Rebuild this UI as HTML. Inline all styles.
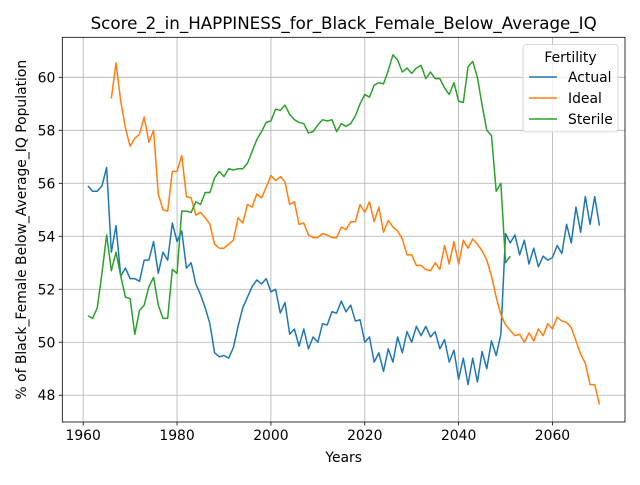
<!DOCTYPE html>
<html><head><meta charset="utf-8"><style>
body{margin:0;background:#fff;font-family:"Liberation Sans","DejaVu Sans",sans-serif}
svg text{font-family:"DejaVu Sans","Liberation Sans",sans-serif}
</style></head><body>
<svg id="chart" width="640" height="480" xmlns="http://www.w3.org/2000/svg">
<rect width="640" height="480" fill="#fff"/>
<g id="grid"></g><g id="series"></g><g id="axes"></g>
</svg>
<script>
const startYear = 1961;
const actualValues = [55.9,55.7,55.7,55.9,56.6,53.4,54.4,52.5,52.8,52.4,52.4,52.3,53.1,53.1,53.8,52.6,53.4,53.1,54.5,53.8,54.2,52.8,53.0,52.2,51.8,51.3,50.7,49.6,49.45,49.5,49.4,49.8,50.6,51.3,51.7,52.1,52.35,52.2,52.4,51.9,52.0,51.1,51.5,50.3,50.5,49.85,50.5,49.75,50.2,50.0,50.7,50.65,51.15,51.1,51.55,51.15,51.4,50.8,50.85,50.0,50.2,49.25,49.6,48.9,49.75,49.25,50.2,49.6,50.4,50.0,50.6,50.25,50.6,50.2,50.4,49.75,50.1,49.25,49.7,48.6,49.4,48.4,49.4,48.5,49.65,49.0,50.05,49.5,50.3,54.1,53.75,54.05,53.3,53.85,52.95,53.55,52.85,53.25,53.1,53.2,53.65,53.35,54.45,53.75,55.1,54.15,55.5,54.45,55.5,54.4];
const idealStart = 1966;
const idealValues = [59.2,60.55,59.1,58.1,57.4,57.7,57.85,58.5,57.55,58.0,55.6,55.0,54.95,56.45,56.45,57.05,55.5,55.45,54.8,54.9,54.7,54.45,53.7,53.55,53.55,53.7,53.85,54.7,54.5,55.2,55.1,55.6,55.45,55.85,56.3,56.1,56.25,56.05,55.2,55.3,54.45,54.5,54.05,53.95,53.95,54.1,54.05,53.95,53.95,54.35,54.25,54.55,54.55,55.2,54.9,55.3,54.55,55.1,54.15,54.6,54.35,54.2,53.9,53.3,53.3,52.9,52.9,52.75,52.7,53.0,52.75,53.65,52.95,53.8,52.95,53.85,53.55,53.9,53.7,53.45,53.1,52.5,51.7,51.05,50.65,50.45,50.25,50.3,50.0,50.35,50.05,50.5,50.25,50.7,50.5,50.95,50.8,50.75,50.55,50.05,49.55,49.2,48.4,48.4,47.65];
const sterileValues = [51.0,50.9,51.3,52.6,54.05,52.7,53.4,52.5,51.7,51.65,50.3,51.2,51.4,52.1,52.45,51.4,50.9,50.9,52.75,52.6,54.95,54.95,54.9,55.3,55.2,55.65,55.65,56.2,56.45,56.25,56.55,56.5,56.55,56.55,56.75,57.2,57.65,57.95,58.3,58.35,58.8,58.75,58.95,58.6,58.4,58.3,58.25,57.9,57.95,58.2,58.4,58.35,58.4,57.95,58.25,58.15,58.25,58.55,59.0,59.35,59.25,59.7,59.8,59.75,60.25,60.85,60.65,60.2,60.35,60.15,60.35,60.45,59.95,60.2,59.95,59.95,59.6,59.35,59.8,59.1,59.05,60.4,60.6,60.0,58.95,58.0,57.8,55.7,56.0,53.0,53.25];
const xTicks = [1960,1980,2000,2020,2040,2060];
const yTicks = [48,50,52,54,56,58,60];

const L=62.3,R=625,T=37.3,B=422;
const xMin=1955.55,xMax=2075.45,yMin=46.99,yMax=61.51;
const X=v=>L+(v-xMin)/(xMax-xMin)*(R-L);
const Y=v=>B-(v-yMin)/(yMax-yMin)*(B-T);
const NS='http://www.w3.org/2000/svg';
function mk(tag,attrs,parent,txt){const e=document.createElementNS(NS,tag);for(const k in attrs)e.setAttribute(k,attrs[k]);if(txt!==undefined)e.textContent=txt;parent.appendChild(e);return e;}
const grid=document.getElementById('grid'),ser=document.getElementById('series'),ax=document.getElementById('axes');
xTicks.forEach(t=>{const x=X(t);
 const g=mk('line',{x1:x,x2:x,y1:T,y2:B,stroke:'#b0b0b0','stroke-width':0.8},grid);
 
 
 mk('line',{x1:x,x2:x,y1:B,y2:B+3.5,stroke:'#000','stroke-width':0.8},ax);
 const l=mk('text',{x:x,y:B+18,'text-anchor':'middle','font-size':13.9,fill:'#000'},ax,String(t));
 
 
});
yTicks.forEach(t=>{const y=Y(t);
 const g=mk('line',{x1:L,x2:R,y1:y,y2:y,stroke:'#b0b0b0','stroke-width':0.8},grid);
 
 
 mk('line',{x1:L-3.5,x2:L,y1:y,y2:y,stroke:'#000','stroke-width':0.8},ax);
 const l=mk('text',{x:L-7,y:y+5,'text-anchor':'end','font-size':13.9,fill:'#000'},ax,String(t));
 
 
});
function line(vals,start,color,name){
 const pts=vals.map((v,i)=>X(start+i).toFixed(2)+','+Y(v).toFixed(2)).join(' ');
 const p=mk('polyline',{points:pts,fill:'none',stroke:color,'stroke-width':1.5,'stroke-linejoin':'round'},ser);
 
 
}
line(actualValues,startYear,'#1f77b4','actual-line');
line(idealValues,idealStart,'#ff7f0e','ideal-line');
line(sterileValues,startYear,'#2ca02c','sterile-line');
const fr=mk('rect',{x:L,y:T,width:R-L,height:B-T,fill:'none',stroke:'#000','stroke-width':0.8},ax);


const tt=mk('text',{x:(L+R)/2,y:29,'text-anchor':'middle','font-size':16.7,fill:'#000'},ax,'Score_2_in_HAPPINESS_for_Black_Female_Below_Average_IQ');


const xt=mk('text',{x:(L+R)/2,y:462,'text-anchor':'middle','font-size':13.9,fill:'#000'},ax,'Years');


const yt=mk('text',{x:0,y:0,'text-anchor':'middle','font-size':13.9,fill:'#000',transform:'translate(26,'+((T+B)/2)+') rotate(-90)'},ax,'% of Black_Female Below_Average_IQ Population');


// legend
const lg=mk('g',{},ax);


mk('rect',{x:523,y:44.5,width:95,height:87.5,rx:3,fill:'#fff','fill-opacity':0.8,stroke:'#ccc','stroke-width':0.8},lg);
mk('text',{x:570.5,y:62,'text-anchor':'middle','font-size':13.9,fill:'#000'},lg,'Fertility');
[['Actual','#1f77b4'],['Ideal','#ff7f0e'],['Sterile','#2ca02c']].forEach((e,i)=>{
 const y=77+i*21;
 const en=mk('g',{},lg);
 
 
 mk('line',{x1:529,x2:557,y1:y,y2:y,stroke:e[1],'stroke-width':1.5},en);
 mk('text',{x:568,y:y+5,'font-size':13.9,fill:'#000'},en,e[0]);
});
</script>
</body></html>
